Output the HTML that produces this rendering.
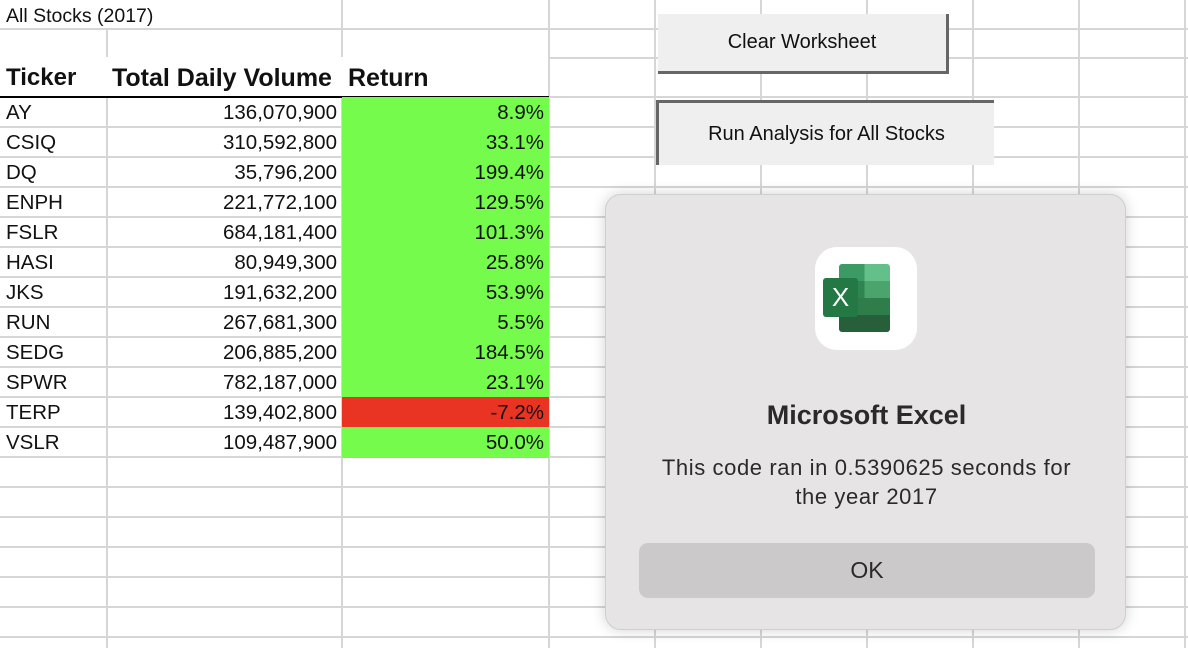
<!DOCTYPE html>
<html><head><meta charset="utf-8"><style>
body{margin:0;width:1188px;height:648px;overflow:hidden;background:#fff;font-family:"Liberation Sans",sans-serif;position:relative}
.abs{position:absolute}
.vl{position:absolute;width:2px;background:#d6d6d6}
.hl{position:absolute;height:2px;background:#d6d6d6}
.cell{position:absolute;font-size:20.5px;line-height:30px;color:#111;white-space:nowrap}
.btn{position:absolute;background:#efefef;font-size:20px;color:#111;display:flex;align-items:center;justify-content:center;box-sizing:border-box}
</style></head><body>
<div id="grid"></div>
<div class="abs" style="left:0;top:57px;width:548px;height:40px;background:#fff"></div>
<div class="abs" style="left:0;top:0;width:341px;height:28px;background:#fff"></div>
<div class="cell" style="left:6px;top:2px;line-height:28px;font-size:19.5px">All Stocks (2017)</div>
<div class="cell" style="left:6px;top:63px;font-size:24px;font-weight:bold">Ticker</div>
<div class="cell" style="left:112px;top:63px;font-size:25px;font-weight:bold">Total Daily Volume</div>
<div class="cell" style="left:348px;top:63px;font-size:25px;font-weight:bold">Return</div>
<div class="abs" style="left:0;top:96px;width:549px;height:2px;background:#000"></div>
<div id="rows"></div>
<div class="btn" style="left:658px;top:14px;width:291px;height:60px;border-right:3px solid #666;border-bottom:3px solid #666">Clear Worksheet</div>
<div class="btn" style="left:656px;top:100px;width:338px;height:65px;border-left:3px solid #666;border-top:3px solid #666">Run Analysis for All Stocks</div>
<div class="abs" style="left:605px;top:194px;width:521px;height:436px;background:#e6e4e4;border-radius:16px;box-shadow:0 0 14px rgba(0,0,0,0.18);border:1px solid #cfcfcf;box-sizing:border-box">
 <div class="abs" style="left:209px;top:52px;width:102px;height:103px;background:#fff;border-radius:22px">
  <div class="abs" style="left:24px;top:17px;width:51px;height:68px;border-radius:3px;overflow:hidden">
   <div style="height:17px;background:linear-gradient(90deg,#3c9a64 50%,#63c08a 50%)"></div>
   <div style="height:17px;background:linear-gradient(90deg,#2f8552 50%,#4aa46c 50%)"></div>
   <div style="height:17px;background:#2f7d4b"></div>
   <div style="height:17px;background:#265f3a"></div>
  </div>
  <div class="abs" style="left:8px;top:31px;width:35px;height:39px;background:#237844;border-radius:3px;color:#fff;font-size:26px;text-align:center;line-height:39px">X</div>
 </div>
 <div class="abs" style="left:0;width:521px;top:205px;text-align:center;font-size:27px;font-weight:bold;color:#2a2a2a">Microsoft Excel</div>
 <div class="abs" style="left:0;width:521px;top:258px;text-align:center;font-size:22px;letter-spacing:0.6px;line-height:29px;color:#2a2a2a">This code ran in 0.5390625 seconds for<br>the year 2017</div>
 <div class="abs" style="left:33px;top:348px;width:456px;height:55px;background:#cbc9ca;border-radius:9px;text-align:center;line-height:55px;font-size:23px;color:#2a2a2a">OK</div>
</div>
<script>
const tickers=["AY","CSIQ","DQ","ENPH","FSLR","HASI","JKS","RUN","SEDG","SPWR","TERP","VSLR"];
const volumes=["136,070,900","310,592,800","35,796,200","221,772,100","684,181,400","80,949,300","191,632,200","267,681,300","206,885,200","782,187,000","139,402,800","109,487,900"];
const returns=[8.9,33.1,199.4,129.5,101.3,25.8,53.9,5.5,184.5,23.1,-7.2,50.0];
const g=document.getElementById('grid');
const cols=[0,107,342,549,655,761,867,973,1079,1185];
const rowsY=[29,58,97];for(let y=127;y<648;y+=30)rowsY.push(y);
cols.forEach((x,i)=>{if(i===0)return;const d=document.createElement('div');d.className='vl';d.style.left=(x-1)+'px';d.style.top=(x===107?29:0)+'px';d.style.height=(x===107?619:648)+'px';

g.appendChild(d);});
rowsY.forEach(y=>{const d=document.createElement('div');d.className='hl';d.style.left='0';d.style.width='1188px';d.style.top=(y-1)+'px';

g.appendChild(d);});
const r=document.getElementById('rows');
tickers.forEach((t,i)=>{const top=98+i*30;
const bg=document.createElement('div');bg.className='abs';bg.style.cssText=`left:342px;top:${top-1}px;width:207px;height:31px;background:${returns[i]<0?'#e93323':'#75fb4c'}`;

r.appendChild(bg);
const a=document.createElement('div');a.className='cell';a.style.left='6px';a.style.top=top+'px';a.textContent=t;

r.appendChild(a);
const b=document.createElement('div');b.className='cell';b.style.right=(1188-337)+'px';b.style.top=top+'px';b.textContent=volumes[i];

r.appendChild(b);
const c=document.createElement('div');c.className='cell';c.style.right=(1188-544)+'px';c.style.top=top+'px';c.textContent=returns[i].toFixed(1)+'%';

r.appendChild(c);});
</script>
</body></html>
